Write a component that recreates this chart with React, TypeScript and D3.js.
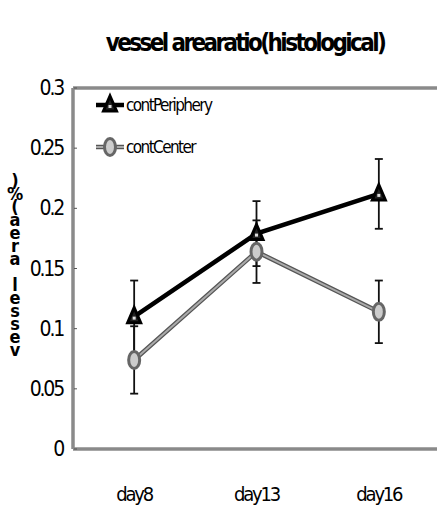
import React from "react";
import * as d3 from "d3";

const categories = ["day8", "day13", "day16"];
const periphery = [0.11, 0.179, 0.212];
const peripheryErr = [0.03, 0.027, 0.029];
const center = [0.074, 0.164, 0.114];
const centerErr = [0.028, 0.026, 0.026];
const yTicks = [0, 0.05, 0.1, 0.15, 0.2, 0.25, 0.3];
const yTickLabels = ["0", "0.05", "0.1", "0.15", "0.2", "0.25", "0.3"];
const title = "vessel arearatio(histological)";
const yLabel = "vessel area(%)";
const legendNames = ["contPeriphery", "contCenter"];

const W = 437, H = 507;
const left = 73, right = 440, top = 88, bottom = 449;
const FONT = "'Liberation Sans Narrow', 'DejaVu Sans Condensed', 'Liberation Sans', sans-serif";

export default function App() {
  const x = d3.scaleBand().domain(categories).range([left, right]);
  const y = d3.scaleLinear().domain([0, 0.3]).range([bottom, top]);
  const cx = (c: string) => (x(c) as number) + x.bandwidth() / 2;
  const line = d3.line<number>().x((_, i) => cx(categories[i])).y((d) => y(d));

  const tri = (px: number, py: number, key: string) => (
    <g key={key}>
      <path d={`M${px},${py - 9} L${px + 6.5},${py + 6} L${px - 6.5},${py + 6} Z`} fill="#222" stroke="#000" strokeWidth={3} />
      <rect x={px - 1.5} y={py} width={3} height={3} fill="#ddd" />
    </g>
  );
  const circ = (px: number, py: number, key: string) => (
    <ellipse key={key} cx={px} cy={py} rx={5.5} ry={8.5} fill="#ccc" stroke="#666" strokeWidth={3} />
  );
  const errBars = (vals: number[], errs: number[], pre: string) =>
    vals.map((v, i) => {
      const px = cx(categories[i]);
      return (
        <g key={pre + i} stroke="#111" strokeWidth={1.8}>
          <line x1={px} x2={px} y1={y(v + errs[i])} y2={y(v - errs[i])} />
          <line x1={px - 4} x2={px + 4} y1={y(v + errs[i])} y2={y(v + errs[i])} />
          <line x1={px - 4} x2={px + 4} y1={y(v - errs[i])} y2={y(v - errs[i])} />
        </g>
      );
    });

  const ychars = yLabel.split("");

  return (
    <div style={{ position: "absolute", left: 0, top: 0 }}>
      <svg width={W} height={H} style={{ display: "block", background: "#fff" }}>
        <text x={245} y={51} textAnchor="middle" fontFamily={FONT} fontWeight="bold" fontSize={24} letterSpacing={-2.6} fill="#000">
          {title}
        </text>
        <g stroke="#8a8a8a" strokeWidth={3.5} fill="none">
          <line x1={left} x2={right} y1={top} y2={top} />
          <line x1={left} x2={left} y1={top} y2={bottom} />
          <line x1={left} x2={right} y1={bottom} y2={bottom} />
        </g>
        {yTicks.map((t, i) => (
          <g key={"yt" + i}>
            <line x1={left + 1} x2={left + 4} y1={y(t)} y2={y(t)} stroke="#555" strokeWidth={1} />
            <text x={63} y={y(t) + 7} textAnchor="end" fontFamily={FONT} fontSize={21} letterSpacing={-2.2} fill="#000">
              {yTickLabels[i]}
            </text>
          </g>
        ))}
        {categories.map((c) => (
          <text key={c} x={cx(c)} y={501} textAnchor="middle" fontFamily={FONT} fontSize={20} letterSpacing={-2.2} fill="#000">
            {c}
          </text>
        ))}
        <text fontFamily={FONT} fontWeight="bold" fontSize={18} fill="#000" textAnchor="middle">
          {ychars.map((ch, i) => (
            <tspan key={"yl" + i} x={15} y={356 - i * 13}>
              {ch}
            </tspan>
          ))}
        </text>
        {errBars(periphery, peripheryErr, "pe")}
        {errBars(center, centerErr, "ce")}
        <path d={line(center) as string} fill="none" stroke="#555" strokeWidth={4.5} />
        <path d={line(center) as string} fill="none" stroke="#aaa" strokeWidth={2} />
        <path d={line(periphery) as string} fill="none" stroke="#000" strokeWidth={4.5} />
        {center.map((v, i) => circ(cx(categories[i]), y(v), "c" + i))}
        {periphery.map((v, i) => tri(cx(categories[i]), y(v), "t" + i))}
        <g>
          <line x1={96} x2={124} y1={105} y2={105} stroke="#000" strokeWidth={4.5} />
          {tri(110, 105, "lt")}
          <text x={126} y={111} fontFamily={FONT} fontSize={17} letterSpacing={-1.6} fill="#000">{legendNames[0]}</text>
          <line x1={96} x2={124} y1={147} y2={147} stroke="#555" strokeWidth={4.5} />
          <line x1={96} x2={124} y1={147} y2={147} stroke="#aaa" strokeWidth={2} />
          {circ(110, 147, "lc")}
          <text x={126} y={153} fontFamily={FONT} fontSize={17} letterSpacing={-1.6} fill="#000">{legendNames[1]}</text>
        </g>
      </svg>
    </div>
  );
}
